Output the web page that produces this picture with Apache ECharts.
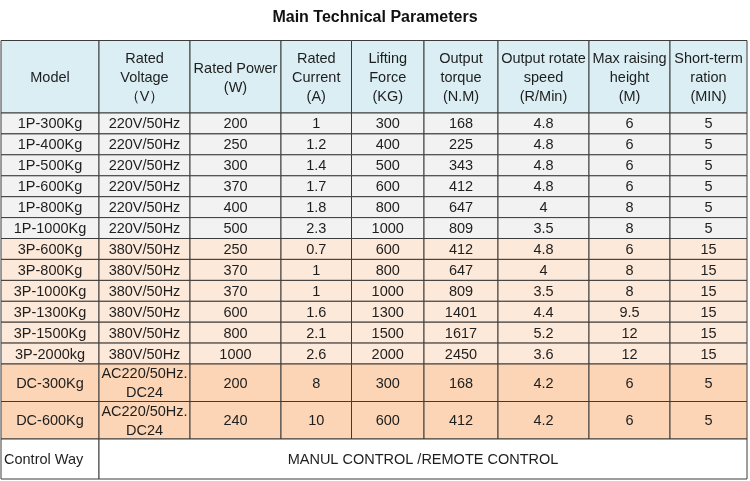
<!DOCTYPE html>
<html>
<head>
<meta charset="utf-8">
<script src="https://cdn.jsdelivr.net/npm/echarts@6/dist/echarts.min.js"></script>
<style>html,body{margin:0;padding:0;background:#fff}#c{width:750px;height:481px}</style>
</head>
<body>
<div id="c"></div>
<script>
// ---- data ----
const title = 'Main Technical Parameters';
const headers = [['Model'], ['Rated', 'Voltage', '（V）'], ['Rated Power', '(W)'], ['Rated', 'Current', '(A)'], ['Lifting', 'Force', '(KG)'], ['Output', 'torque', '(N.M)'], ['Output rotate', 'speed', '(R/Min)'], ['Max raising', 'height', '(M)'], ['Short-term', 'ration', '(MIN)']];
const models = ['1P-300Kg', '1P-400Kg', '1P-500Kg', '1P-600Kg', '1P-800Kg', '1P-1000Kg', '3P-600Kg', '3P-800Kg', '3P-1000Kg', '3P-1300Kg', '3P-1500Kg', '3P-2000kg', 'DC-300Kg', 'DC-600Kg'];
const voltage = ['220V/50Hz', '220V/50Hz', '220V/50Hz', '220V/50Hz', '220V/50Hz', '220V/50Hz', '380V/50Hz', '380V/50Hz', '380V/50Hz', '380V/50Hz', '380V/50Hz', '380V/50Hz', 'AC220/50Hz.\nDC24', 'AC220/50Hz.\nDC24'];
const power = [200, 250, 300, 370, 400, 500, 250, 370, 370, 600, 800, 1000, 200, 240];
const current = [1, 1.2, 1.4, 1.7, 1.8, 2.3, 0.7, 1, 1, 1.6, 2.1, 2.6, 8, 10];
const force = [300, 400, 500, 600, 800, 1000, 600, 800, 1000, 1300, 1500, 2000, 300, 600];
const torque = [168, 225, 343, 412, 647, 809, 412, 647, 809, 1401, 1617, 2450, 168, 412];
const speed = [4.8, 4.8, 4.8, 4.8, 4, 3.5, 4.8, 4, 3.5, 4.4, 5.2, 3.6, 4.2, 4.2];
const height = [6, 6, 6, 6, 8, 8, 6, 8, 8, 9.5, 12, 12, 6, 6];
const ration = [5, 5, 5, 5, 5, 5, 15, 15, 15, 15, 15, 15, 5, 5];
const groups = ['1P', '1P', '1P', '1P', '1P', '1P', '3P', '3P', '3P', '3P', '3P', '3P', 'DC', 'DC'];
const controlLabel = 'Control Way';
const controlText = 'MANUL CONTROL /REMOTE CONTROL';

// ---- layout & style ----
const colEdges = [1, 99, 190, 281, 351.5, 424, 498, 589, 670, 747];
const rowEdges = [40.5, 113, 133.9, 154.8, 175.8, 196.7, 217.6, 238.5, 259.4, 280.4, 301.3, 322.2, 343.1, 364, 401.5, 439, 479];
const fills = { header: '#DAEEF3', '1P': '#F2F2F2', '3P': '#FDE9D9', 'DC': '#FBD5B5', control: '#FFFFFF' };
const FONT = "'Liberation Sans', Arial, sans-serif";

const columns = [models, voltage, power, current, force, torque, speed, height, ration];
const cells = [];
headers.forEach((h, c) => cells.push({ value: [colEdges[c], rowEdges[0], colEdges[c + 1], rowEdges[1]], text: h.join('\n'), fill: fills.header, align: 'center', dy: 1.5 }));
models.forEach((m, r) => {
  columns.forEach((col, c) => cells.push({ value: [colEdges[c], rowEdges[r + 1], colEdges[c + 1], rowEdges[r + 2]], text: String(col[r]), fill: fills[groups[r]], align: 'center', dy: 1 }));
});
const lr = models.length + 1;
cells.push({ value: [colEdges[0], rowEdges[lr], colEdges[1], rowEdges[lr + 1]], text: controlLabel, fill: fills.control, align: 'left', dy: 1 });
cells.push({ value: [colEdges[1], rowEdges[lr], colEdges[colEdges.length - 1], rowEdges[lr + 1]], text: controlText, fill: fills.control, align: 'center', dy: 1 });

const chart = echarts.init(document.getElementById('c'), null, { renderer: 'canvas' });
chart.setOption({
  backgroundColor: '#fff',
  animation: false,
  title: { text: title, left: 'center', top: 5, textStyle: { fontFamily: FONT, fontSize: 16, fontWeight: 'bold', color: '#111' } },
  grid: { left: 0, right: 0, top: 0, bottom: 0 },
  xAxis: { type: 'value', min: 0, max: 750, show: false },
  yAxis: { type: 'value', min: 0, max: 481, inverse: true, show: false },
  series: [{
    type: 'custom',
    coordinateSystem: 'cartesian2d',
    data: cells,
    renderItem: function (params, api) {
      const d = cells[params.dataIndex];
      const p0 = api.coord([api.value(0), api.value(1)]);
      const p1 = api.coord([api.value(2), api.value(3)]);
      const tx = d.align === 'left' ? p0[0] + 3 : (p0[0] + p1[0]) / 2;
      return {
        type: 'group',
        children: [
          { type: 'rect', shape: { x: p0[0], y: p0[1], width: p1[0] - p0[0], height: p1[1] - p0[1] }, style: { fill: d.fill, stroke: '#3c3c3c', lineWidth: 1 } },
          { type: 'text', style: { x: tx, y: (p0[1] + p1[1]) / 2 + d.dy, text: d.text, align: d.align, verticalAlign: 'middle', fontFamily: FONT, fontSize: 14.5, lineHeight: 19, fill: '#1e1e1e' } }
        ]
      };
    }
  }]
});
</script>
</body>
</html>
